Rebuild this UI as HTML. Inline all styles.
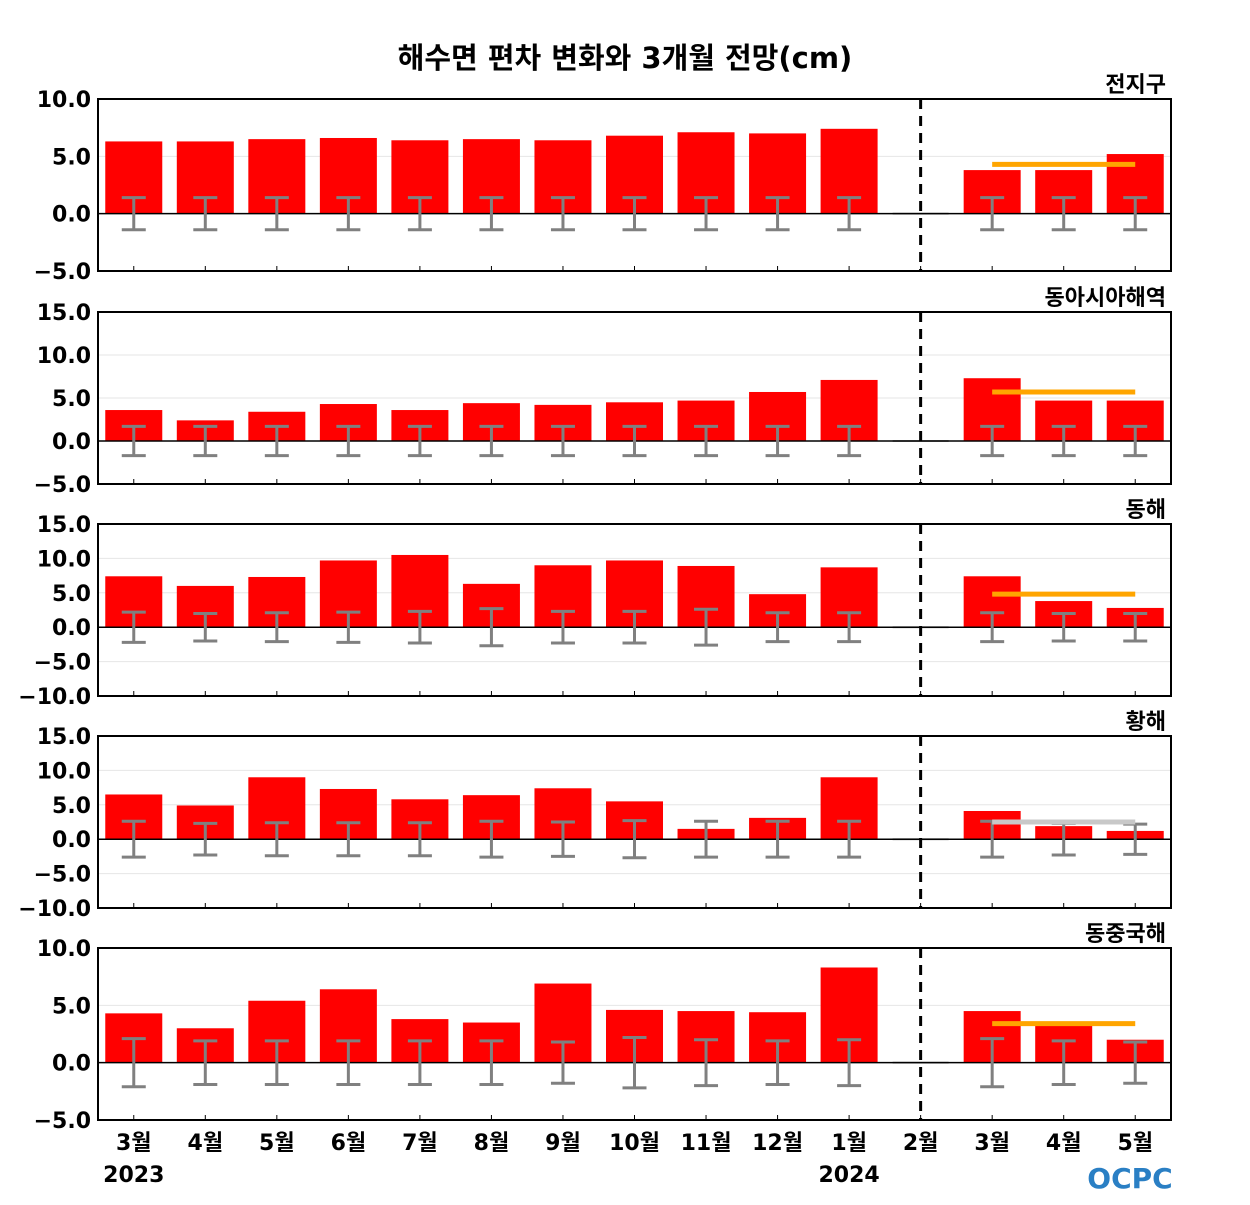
<!DOCTYPE html>
<html><head><meta charset="utf-8"><style>
body{margin:0;background:#fff;}
svg text{font-family:"DejaVu Sans","Noto Sans CJK KR",sans-serif;font-weight:bold;}
</style></head><body>
<svg id="chart" width="1250" height="1200" xmlns="http://www.w3.org/2000/svg">
<text x="625" y="68" text-anchor="middle" font-size="29">해수면 편차 변화와 3개월 전망(cm)</text>
</svg>
<script>
const categories = ['3월','4월','5월','6월','7월','8월','9월','10월','11월','12월','1월','2월','3월','4월','5월'];
const yearLabels = ['2023','2024'];
const panelNames = ['전지구','동아시아해역','동해','황해','동중국해'];
const valsGlobal = [6.3,6.3,6.5,6.6,6.4,6.5,6.4,6.8,7.1,7.0,7.4,null,3.8,3.8,5.2];
const valsEastAsia = [3.6,2.4,3.4,4.3,3.6,4.4,4.2,4.5,4.7,5.7,7.1,null,7.3,4.7,4.7];
const valsEastSea = [7.4,6.0,7.3,9.7,10.5,6.3,9.0,9.7,8.9,4.8,8.7,null,7.4,3.8,2.8];
const valsYellowSea = [6.5,4.9,9.0,7.3,5.8,6.4,7.4,5.5,1.5,3.1,9.0,null,4.1,1.9,1.2];
const valsEastChinaSea = [4.3,3.0,5.4,6.4,3.8,3.5,6.9,4.6,4.5,4.4,8.3,null,4.5,3.2,2.0];
const errGlobal = [1.4,1.4,1.4,1.4,1.4,1.4,1.4,1.4,1.4,1.4,1.4,null,1.4,1.4,1.4];
const errEastAsia = [1.7,1.7,1.7,1.7,1.7,1.7,1.7,1.7,1.7,1.7,1.7,null,1.7,1.7,1.7];
const errEastSea = [2.2,2.0,2.1,2.2,2.3,2.7,2.3,2.3,2.6,2.1,2.1,null,2.1,2.0,2.0];
const errYellowSea = [2.6,2.3,2.4,2.4,2.4,2.6,2.5,2.7,2.6,2.6,2.6,null,2.6,2.3,2.2];
const errEastChinaSea = [2.1,1.9,1.9,1.9,1.9,1.9,1.8,2.2,2.0,1.9,2.0,null,2.1,1.9,1.8];
const forecastGlobal = 4.3, forecastEastAsia = 5.7, forecastEastSea = 4.8, forecastYellowSea = 2.5, forecastEastChinaSea = 3.4;
const forecastColors = ['#ffa500','#ffa500','#ffa500','#c8c8c8','#ffa500'];
const yMins = [-5,-5,-10,-10,-5];
const yMaxs = [10,15,15,15,10];
const yStep = 5;

const allVals=[valsGlobal,valsEastAsia,valsEastSea,valsYellowSea,valsEastChinaSea];
const allErr=[errGlobal,errEastAsia,errEastSea,errYellowSea,errEastChinaSea];
const allFc=[forecastGlobal,forecastEastAsia,forecastEastSea,forecastYellowSea,forecastEastChinaSea];
const svg=document.getElementById('chart');
const NS='http://www.w3.org/2000/svg';
function mk(t,a,p){const e=document.createElementNS(NS,t);for(const k in a)e.setAttribute(k,a[k]);(p||svg).appendChild(e);return e;}
const X0=98,X1=1171,step=(X1-X0)/categories.length;
const xC=i=>X0+step*(i+0.5);
const tops=[99,312,524,736,948],H=172;
allVals.forEach((vals,p)=>{
  const g=mk('g',{});
  
  
  const t0=tops[p],mn=yMins[p],mx=yMaxs[p];
  const y=v=>t0+(mx-v)/(mx-mn)*H;
  for(let v=mn;v<=mx;v+=yStep){
    if(v!==mn&&v!==mx&&v!==0){const l=mk('line',{x1:X0,x2:X1,y1:y(v),y2:y(v),stroke:'#e6e6e6','stroke-width':1},g);}
    const tx=mk('text',{x:91,y:y(v)+8,'text-anchor':'end','font-size':22},g);
    
    
    tx.textContent=(v<0?'\u2212'+(-v):v).toString().replace(/^(\u2212?\d+)$/,'$1.0');
  }
  vals.forEach((v,i)=>{
    if(v===null){const l=mk('line',{x1:xC(i)-28,x2:xC(i)+28,y1:y(0),y2:y(0),stroke:'#aaa','stroke-width':2},g);return;}
    const r=mk('rect',{x:xC(i)-28.5,y:Math.min(y(v),y(0)),width:57,height:Math.abs(y(0)-y(v)),fill:'#ff0000'},g);
    
    
  });
  const z=mk('line',{x1:X0,x2:X1,y1:y(0),y2:y(0),stroke:'#000','stroke-width':1.5},g);
  
  allErr[p].forEach((e,i)=>{
    if(e===null)return;
    const eg=mk('g',{stroke:'#808080','stroke-width':3},g);
    
    
    mk('line',{x1:xC(i),x2:xC(i),y1:y(e),y2:y(-e)},eg);
    mk('line',{x1:xC(i)-12,x2:xC(i)+12,y1:y(e),y2:y(e)},eg);
    mk('line',{x1:xC(i)-12,x2:xC(i)+12,y1:y(-e),y2:y(-e)},eg);
  });
  const f=mk('line',{x1:xC(12),x2:xC(14),y1:y(allFc[p]),y2:y(allFc[p]),stroke:forecastColors[p],'stroke-width':5},g);
  
  for(let i=0;i<categories.length;i++){mk('line',{x1:xC(i),x2:xC(i),y1:t0+H,y2:t0+H-5,stroke:'#000','stroke-width':1},g);}
  const d=mk('line',{x1:xC(11),x2:xC(11),y1:t0,y2:t0+H,stroke:'#000','stroke-width':3,'stroke-dasharray':'10,7'},g);
  
  const fr=mk('rect',{x:X0,y:t0,width:X1-X0,height:H,fill:'none',stroke:'#000','stroke-width':2},g);
  
  const nm=mk('text',{x:1166,y:t0-7,'text-anchor':'end','font-size':22},g);
  
  nm.textContent=panelNames[p];
});
categories.forEach((c,i)=>{
  const t=mk('text',{x:xC(i),y:1150,'text-anchor':'middle','font-size':22});
  
  t.textContent=c;
});
[[0,yearLabels[0]],[10,yearLabels[1]]].forEach(([i,s])=>{
  const t=mk('text',{x:xC(i),y:1182,'text-anchor':'middle','font-size':22});
  
  t.textContent=s;
});
const lg=mk('text',{x:1130,y:1188,'text-anchor':'middle','font-size':28,fill:'#2a7fc4'});

lg.textContent='OCPC';
</script>
</body></html>
